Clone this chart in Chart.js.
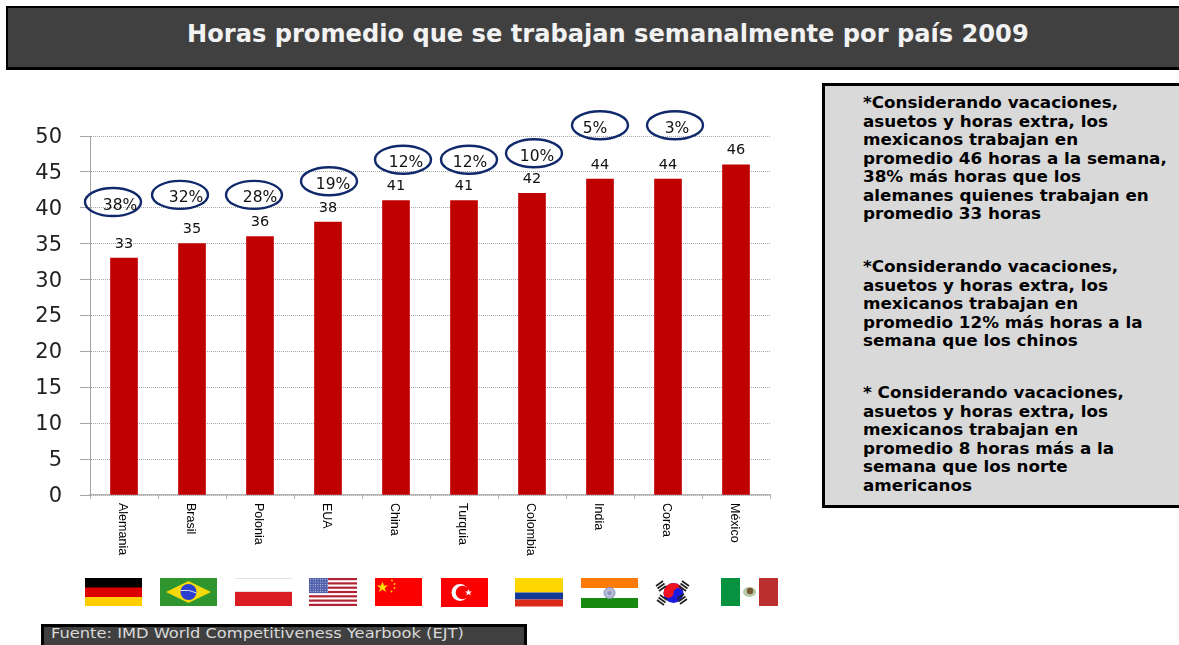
<!DOCTYPE html>
<html lang="es"><head><meta charset="utf-8">
<script src="https://cdn.jsdelivr.net/npm/chart.js@4"></script>
<style>
html,body{margin:0;padding:0;background:#fff;overflow:hidden}
#page{position:relative;width:1179px;height:645px;overflow:hidden;background:#fff}
#c{position:absolute;left:0;top:0}
.box{position:absolute;box-sizing:border-box;border:2px solid #000}
#title{left:6px;top:6px;width:1180px;height:64px;background:#404040;border-bottom:3px solid #000}
#titleText{position:absolute;left:187px;top:20px;color:#f2f2f2;font:bold 24px "DejaVu Sans";white-space:nowrap;transform-origin:0 0;transform:scaleX(1.005)}
#side{left:822px;top:83px;width:370px;height:425px;background:#d9d9d9;border-width:3px 0 3px 3px}
.note{position:absolute;left:863px;color:#000;font:bold 15.3px/18.5px "DejaVu Sans";white-space:nowrap;transform-origin:0 0;transform:scaleX(1.097)}
#foot{left:41px;top:624px;width:486px;height:24px;background:#404040;border:3px solid #000}
#footText{position:absolute;left:51px;top:624px;color:#d9d9d9;font:14.5px/19px "DejaVu Sans";white-space:nowrap;transform-origin:0 0;transform:scaleX(1.122)}
svg{position:absolute;left:0;top:0}
</style></head><body>
<div id="page">
<canvas id="c" width="1179" height="645"></canvas>
<div class="box" id="title"></div>
<div id="titleText">Horas promedio que se trabajan semanalmente por país 2009</div>
<div class="box" id="side"></div>
<div class="note" style="top:94px">*Considerando vacaciones,<br>asuetos y horas extra, los<br>mexicanos trabajan en<br>promedio 46 horas a la semana,<br>38% más horas que los<br>alemanes quienes trabajan en<br>promedio 33 horas</div>
<div class="note" style="top:258px">*Considerando vacaciones,<br>asuetos y horas extra, los<br>mexicanos trabajan en<br>promedio 12% más horas a la<br>semana que los chinos</div>
<div class="note" style="top:384px">* Considerando vacaciones,<br>asuetos y horas extra, los<br>mexicanos trabajan en<br>promedio 8 horas más a la<br>semana que los norte<br>americanos</div>
<div class="box" id="foot"></div>
<div id="footText">Fuente: IMD World Competitiveness Yearbook (EJT)</div>
<svg width="1179" height="645" viewBox="0 0 1179 645">
 <defs><pattern id="st" width="2.400" height="2.400" patternUnits="userSpaceOnUse"><rect width="2.400" height="2.400" fill="#4a5ba8"/><circle cx="1.200" cy="1.200" r=".6" fill="#c9cfe6"/></pattern></defs>
 <!-- Alemania -->
 <rect x="85" y="578" width="57" height="10" fill="#000"/><rect x="85" y="587.500" width="57" height="9.500" fill="#dd0000"/><rect x="85" y="597" width="57" height="9" fill="#ffce00"/>
 <!-- Brasil -->
 <rect x="160" y="578" width="57" height="28" fill="#2f962f"/><polygon points="166,592 188.500,581 211,592 188.500,603" fill="#f5d90a"/><circle cx="188.500" cy="592" r="8" fill="#2a3fd0"/><path d="M180.500 590.500 Q189 589 196.500 593" stroke="#dfe3ee" stroke-width="1" fill="none"/>
 <!-- Polonia -->
 <rect x="235" y="578" width="57" height="14" fill="#fff"/><rect x="235" y="578" width="57" height="1" fill="#e2e2e2"/><rect x="235" y="591" width="57" height="1" fill="#e8dcdc"/><rect x="235" y="592" width="57" height="14" fill="#dc1c24"/>
 <!-- EUA -->
 <g><rect x="309" y="578" width="48" height="28" fill="#fff"/>
  <rect x="309" y="578" width="48" height="2.200" fill="#b22234"/><rect x="309" y="582.300" width="48" height="2.200" fill="#b22234"/><rect x="309" y="586.600" width="48" height="2.200" fill="#b22234"/><rect x="309" y="590.900" width="48" height="2.200" fill="#b22234"/><rect x="309" y="595.200" width="48" height="2.200" fill="#b22234"/><rect x="309" y="599.500" width="48" height="2.200" fill="#b22234"/><rect x="309" y="603.800" width="48" height="2.200" fill="#b22234"/>
  <rect x="309" y="578" width="19" height="15" fill="url(#st)"/></g>
 <!-- China -->
 <rect x="375" y="578" width="47" height="28" fill="#fb0000"/><polygon points="382.500,581.500 384,585.500 388,585.500 384.800,588 386,592 382.500,589.500 379,592 380.200,588 377,585.500 381,585.500" fill="#ffde00"/><circle cx="392" cy="580.500" r=".9" fill="#ffde00"/><circle cx="394.500" cy="584" r=".9" fill="#ffde00"/><circle cx="394.500" cy="588" r=".9" fill="#ffde00"/><circle cx="391.500" cy="591.500" r=".9" fill="#ffde00"/>
 <!-- Turquia -->
 <rect x="441" y="578" width="47" height="29" fill="#fb0000"/><circle cx="460" cy="592.500" r="8.500" fill="#fff"/><circle cx="462.500" cy="592.500" r="6.800" fill="#fb0000"/><polygon points="468.500,589 469.500,591.500 472,591.500 470,593 470.800,595.500 468.500,594 466.300,595.500 467,593 465,591.500 467.500,591.500" fill="#fff"/>
 <!-- Colombia -->
 <rect x="515" y="578" width="48" height="14.500" fill="#ffd600"/><rect x="515" y="592.500" width="48" height="7" fill="#123a96"/><rect x="515" y="599.500" width="48" height="7" fill="#dc2a1a"/>
 <!-- India -->
 <rect x="581" y="578" width="57" height="10" fill="#fb7a08"/><rect x="581" y="588" width="57" height="10" fill="#fff"/><rect x="581" y="598" width="57" height="10" fill="#158a0e"/><circle cx="609.500" cy="593" r="5.500" fill="#b6bcd8" stroke="#8a92bb" stroke-width="1"/><circle cx="609.500" cy="593" r="2" fill="#8a92bb"/>
 <!-- Corea -->
 <circle cx="673.500" cy="593" r="10" fill="#1a1ae0"/><path d="M663.500 593 A10 10 0 0 1 683.500 593 A5 5 0 0 0 673.500 593 A5 5 0 0 1 663.500 593 Z" fill="#f01020"/>
 <g stroke="#222" stroke-width="1.700" fill="none"><path d="M656 586 L663 581 M657.500 588.500 L664.500 583.500 M659 591 L666 586"/><path d="M682 581 L689 586 M680.500 583.500 L687.500 588.500 M679 586 L686 591"/><path d="M657 600 L664 605 M658.500 597.500 L665.500 602.500 M660 595 L667 600"/><path d="M680 604 L687 599 M678.500 601.500 L685.500 596.500 M677 599 L684 594"/></g>
 <!-- Mexico -->
 <rect x="721" y="578" width="19" height="28" fill="#06923e"/><rect x="740" y="578" width="19" height="28" fill="#fff"/><rect x="759" y="578" width="19" height="28" fill="#bc2f2f"/><ellipse cx="749.500" cy="592" rx="6.500" ry="5" fill="#b5c9a5"/><circle cx="750" cy="591" r="3.200" fill="#7a5a35"/>
</svg>
</div>
<script>
const categories = ["Alemania","Brasil","Polonia","EUA","China","Turquia","Colombia","India","Corea","México"];
const hours = [33,35,36,38,41,41,42,44,44,46];
const yTicks = [0,5,10,15,20,25,30,35,40,45,50];
const pctLabels = ["38%","32%","28%","19%","12%","12%","10%","5%","3%"];
const ovalLevels = [40.8,41.8,41.8,43.7,46.7,46.7,47.6,51.5,51.5];
const ovalShift = [-11,-12,-6,1,7,5,2,0,7];
const textShift = [-4,-6,0,5,10,6,5,-5,9];

const annotate = {
  id:'annotate',
  afterDraw(chart){
    const {ctx,scales:{x,y}} = chart;
    ctx.save();
    ctx.textAlign='center'; ctx.textBaseline='middle'; ctx.fillStyle='#111';
    ctx.font='14.5px "DejaVu Sans"';
    hours.forEach((v,i)=>ctx.fillText(String(v),x.getPixelForValue(i),y.getPixelForValue(v)-14));
    pctLabels.forEach((t,i)=>{
      const cx=x.getPixelForValue(i), cy=y.getPixelForValue(ovalLevels[i]);
      ctx.beginPath();
      ctx.ellipse(cx+ovalShift[i],cy,28,14,0,0,Math.PI*2);
      ctx.strokeStyle='#10296b'; ctx.lineWidth=2.4; ctx.stroke();
      ctx.fillStyle='#111'; ctx.font='15.5px "DejaVu Sans"';
      ctx.fillText(t,cx+textShift[i],cy+3.5);
    });
    ctx.restore();
  }
};

new Chart(document.getElementById('c'),{
  type:'bar',
  plugins:[annotate],
  data:{labels:categories,datasets:[{data:hours,backgroundColor:'#c00000',barThickness:27}]},
  options:{
    responsive:false,animation:false,
    layout:{padding:{top:136,right:409,left:0,bottom:0}},
    plugins:{legend:{display:false},tooltip:{enabled:false}},
    scales:{
      x:{
        afterFit(s){s.height=150;},
        afterSetDimensions(s){s._getXAxisLabelAlignment=()=>'left';},
        grid:{offset:true,drawOnChartArea:false,color:'#b5b5b5',tickLength:4},
        border:{color:'#b5b5b5',width:1.5},
        ticks:{autoSkip:false,minRotation:-90,maxRotation:-90,padding:4,labelOffset:-2,color:'#000',font:{family:'"Liberation Sans"',size:12.5}}
      },
      y:{
        min:0,max:50,
        afterFit(s){s.width=90;},
        afterBuildTicks(s){s.ticks=yTicks.map(v=>({value:v}));},
        grid:{color:'#a6a6a6',tickLength:10,lineWidth:1},
        border:{color:'#a0a0a0',dash:[1,1]},
        ticks:{padding:18,labelOffset:1.5,color:'#222',font:{family:'"DejaVu Sans"',size:21}}
      }
    }
  }
});
</script>
</body></html>
